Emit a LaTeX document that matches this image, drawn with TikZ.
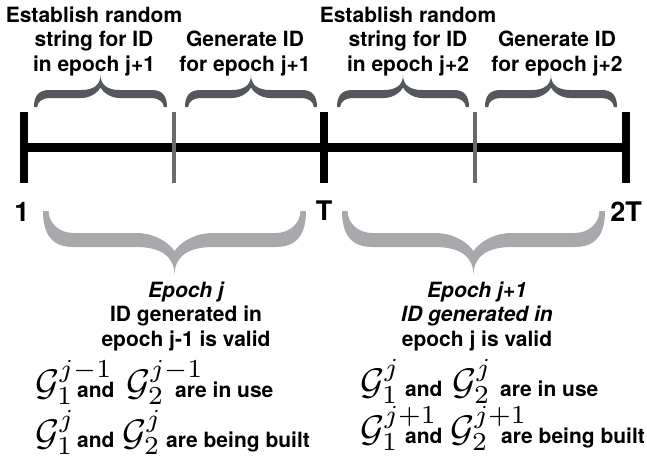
\documentclass[tikz,border=0pt]{standalone}
\usepackage{graphicx}
\usepackage[no-math]{fontspec}
\setmainfont{TeX Gyre Heros}
\definecolor{topbrace}{HTML}{54575C}
\definecolor{botbrace}{HTML}{A8A9AD}
\definecolor{tickgray}{HTML}{6A6B6E}
\newcommand\curlybrace[7]{%
  \pgfmathsetmacro\cbxc{(#2+#3)/2}%
  \pgfmathsetmacro\cbhw{(#3-#2)/2}%
  \pgfmathsetmacro\cbs{sign(#6-#4)}%
  \pgfmathsetmacro\cbo{#5+\cbs*#7/2}%
  \pgfmathsetmacro\cbi{#5-\cbs*#7/2}%
  \pgfmathsetmacro\cbcusp{\cbo+\cbs*0.3*#7}%
  \pgfmathsetmacro\cbre{0.23*\cbhw}%
  \pgfmathsetmacro\cbrc{0.29*\cbhw}%
  \pgfmathsetmacro\cbw{0.4*#7}%
  \fill[#1] (#2,#4)
    .. controls (#2,{#4+0.65*(\cbo-#4)}) and ({#2+0.3*\cbre},\cbo) .. ({#2+\cbre},\cbo)
    -- ({\cbxc-\cbrc},\cbo)
    .. controls ({\cbxc-0.35*\cbrc},\cbo) and (\cbxc,{\cbo+0.35*(#6-\cbo)}) .. (\cbxc,#6)
    .. controls (\cbxc,{\cbo+0.35*(#6-\cbo)}) and ({\cbxc+0.35*\cbrc},\cbo) .. ({\cbxc+\cbrc},\cbo)
    -- ({#3-\cbre},\cbo)
    .. controls ({#3-0.3*\cbre},\cbo) and (#3,{#4+0.65*(\cbo-#4)}) .. (#3,#4)
    -- ({#3-\cbw},#4)
    .. controls ({#3-\cbw},{#4+0.55*(\cbi-#4)}) and ({#3-\cbw-0.35*\cbre},\cbi) .. ({#3-\cbre},\cbi)
    -- ({\cbxc+\cbrc},\cbi)
    .. controls ({\cbxc+0.45*\cbrc},\cbi) and ({\cbxc+0.08*\cbrc},{\cbcusp-\cbs*0.4*#7}) .. (\cbxc,\cbcusp)
    .. controls ({\cbxc-0.08*\cbrc},{\cbcusp-\cbs*0.4*#7}) and ({\cbxc-0.45*\cbrc},\cbi) .. ({\cbxc-\cbrc},\cbi)
    -- ({#2+\cbre},\cbi)
    .. controls ({#2+\cbw+0.35*\cbre},\cbi) and ({#2+\cbw},{#4+0.55*(\cbi-#4)}) .. ({#2+\cbw},#4)
    -- cycle;%
}
\newcommand\bigmath[1]{\scalebox{3.7}{$#1$}}
\tikzset{
  lbl/.style={font=\fontsize{21}{24}\selectfont\bfseries, inner sep=0pt, anchor=base},
  lblw/.style={font=\fontsize{21}{24}\selectfont\bfseries, inner sep=0pt, anchor=base west},
  big/.style={font=\fontsize{27}{30}\selectfont\bfseries, inner sep=0pt},
  mth/.style={font=\fontsize{10}{12}\selectfont, inner sep=0pt, anchor=base west},
  blktick/.style={line width=8.5pt, black},
  graytick/.style={line width=4pt, tickgray},
}
\begin{document}
\begin{tikzpicture}[x=1pt,y=-1pt]
\useasboundingbox (0,0) rectangle (647,464);
\fill[white] (0,0) rectangle (647,464);
% timeline
\draw[line width=9pt] (24,147) -- (626,147);
\draw[blktick] (24,112) -- (24,183);
\draw[blktick] (324,112) -- (324,183);
\draw[blktick] (626,112) -- (626,183);
\draw[graytick] (174,112) -- (174,183);
\draw[graytick] (475,112) -- (475,183);
% axis labels
\node[big] (l1) at (22,212) {1};
\node[big] (lT) at (324,211) {T};
\node[big] (l2T) at (626,212) {2T};
% top braces
\curlybrace{topbrace}{34}{167}{107}{94}{75}{8}
\curlybrace{topbrace}{185}{317}{107}{94}{75}{8}
\curlybrace{topbrace}{337}{469}{107}{94}{75}{8}
\curlybrace{topbrace}{485}{617}{107}{94}{75}{8}
% bottom braces
\curlybrace{botbrace}{43}{306}{211}{240}{275}{14}
\curlybrace{botbrace}{342}{605}{211}{240}{275}{14}
% top labels
\node[lbl] (a1) at (94,22) {Establish random};
\node[lbl] (a2) at (94,46.5) {string for ID};
\node[lbl] (a3) at (94,71) {in epoch j+1};
\node[lbl] (b1) at (245,46.5) {Generate ID};
\node[lbl] (b2) at (245,71) {for epoch j+1};
\node[lbl] (c1) at (408,22) {Establish random};
\node[lbl] (c2) at (408,46.5) {string for ID};
\node[lbl] (c3) at (408,71) {in epoch j+2};
\node[lbl] (d1) at (557,46.5) {Generate ID};
\node[lbl] (d2) at (557,71) {for epoch j+2};
% bottom labels
\node[lbl] (e1) at (186,297) {\itshape Epoch j};
\node[lbl] (e2) at (186,321.5) {ID generated in};
\node[lbl] (e3) at (186,346) {epoch j-1 is valid};
\node[lbl] (f1) at (477,297) {\itshape Epoch j+1};
\node[lbl] (f2) at (477,321.5) {\itshape ID generated in};
\node[lbl] (f3) at (477,346) {epoch j is valid};
% math rows, left
\node[mth] (g1) at (35,395) {\bigmath{\mathcal{G}_1^{j-1}}};
\node[lblw] (g2) at (77,397) {and};
\node[mth] (g3) at (126,395) {\bigmath{\mathcal{G}_2^{j-1}}};
\node[lblw] (g4) at (175,397) {are in use};
\node[mth] (h1) at (35,445) {\bigmath{\mathcal{G}_1^{j}}};
\node[lblw] (h2) at (77,447) {and};
\node[mth] (h3) at (122,445) {\bigmath{\mathcal{G}_2^{j}}};
\node[lblw] (h4) at (166,447) {are being built};
% math rows, right
\node[mth] (i1) at (360,394) {\bigmath{\mathcal{G}_1^{j}}};
\node[lblw] (i2) at (405,396) {and};
\node[mth] (i3) at (452,394) {\bigmath{\mathcal{G}_2^{j}}};
\node[lblw] (i4) at (500,396) {are in use};
\node[mth] (k1) at (360,441) {\bigmath{\mathcal{G}_1^{j+1}}};
\node[lblw] (k2) at (405,443) {and};
\node[mth] (k3) at (450,441) {\bigmath{\mathcal{G}_2^{j+1}}};
\node[lblw] (k4) at (501,443) {are being built};
\end{tikzpicture}
\end{document}
